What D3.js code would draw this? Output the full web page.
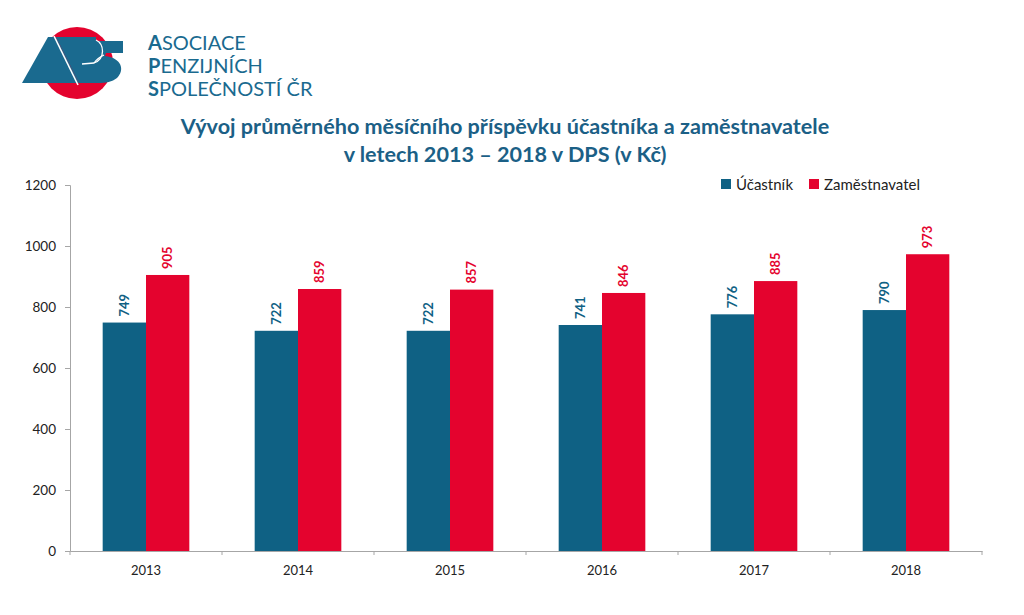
<!DOCTYPE html>
<html><head><meta charset="utf-8">
<script src="https://cdn.jsdelivr.net/npm/d3@7"></script>
<style>body{margin:0;background:#fff;font-family:Lato,"Open Sans",sans-serif}</style>
</head><body>
<svg id="c" width="1024" height="615"></svg>
<script>
const years = ["2013","2014","2015","2016","2017","2018"];
const ucastnik = [749,722,722,741,776,790];
const zamestnavatel = [905,859,857,846,885,973];
const seriesNames = ["Účastník","Zaměstnavatel"];
const colors = ["#0f6184","#e4032e"];
const yTicks = [0,200,400,600,800,1000,1200];

const svg = d3.select("#c");
const m = {l:70, r:982, t:185, b:551};

// Logo
const lg = svg.append("g");
const logoBlue = "#1a6a8f";
lg.append("circle").attr("cx",77).attr("cy",63).attr("r",36).attr("fill","#e4032e");
lg.append("path").attr("d","M22,83 L48,37 L56,37 L79,83 Z").attr("fill",logoBlue);
lg.append("path").attr("d","M56,37 L96,37 L96,41 L123,41 L123,53 L106,53 L105,56 C122,58 125,70 117,78 C112,82 106,83 98,83 L79,83 Z").attr("fill",logoBlue);
lg.append("path").attr("d","M54,36 L78,85").attr("stroke","#fff").attr("stroke-width",1.6).attr("fill","none");
lg.append("path").attr("d","M96,40 C104,44 106,58 94,63 L82,64").attr("stroke","#fff").attr("stroke-width",1.3).attr("fill","none");
lg.append("path").attr("d","M104,55 C100,57 96,60 94,63").attr("stroke","#fff").attr("stroke-width",1.3).attr("fill","none");
const lt = [["A","SOCIACE"],["P","ENZIJNÍCH"],["S","POLEČNOSTÍ ČR"]];
lt.forEach((d,i)=>{
  const t = lg.append("text").attr("x",148).attr("y",50+i*23).attr("font-size",20).attr("fill",logoBlue).attr("font-family","Lato, sans-serif");
  t.append("tspan").attr("font-weight","bold").text(d[0]);
  t.append("tspan").text(d[1]);
});

// Title
const title = ["Vývoj průměrného měsíčního příspěvku účastníka a zaměstnavatele","v letech 2013 – 2018 v DPS (v Kč)"];
title.forEach((s,i)=>svg.append("text").attr("x",505).attr("y",134+i*28).attr("text-anchor","middle")
  .attr("font-size",21.6).attr("font-weight","bold").attr("fill","#1b6086").text(s));

const x = d3.scaleBand().domain(years).range([m.l,m.r]).paddingInner(0.43).paddingOuter(0.215);
const xs = d3.scaleBand().domain([0,1]).range([0,x.bandwidth()]);
const y = d3.scaleLinear().domain([0,1200]).range([m.b,m.t]);

const xb = d3.scaleBand().domain(years).range([m.l,m.r]);
const xAxis = svg.append("g").attr("transform",`translate(0,${m.b})`)
  .call(d3.axisBottom(xb).tickSize(0).tickPadding(15));
xAxis.select(".domain").attr("stroke","#a6a6a6");
xAxis.selectAll("text").attr("font-size",13).attr("fill","#222").attr("font-family","Lato, sans-serif");
xAxis.selectAll(".bt").data(d3.range(years.length+1)).join("line").attr("class","bt")
  .attr("x1",i=>m.l+i*xb.step()).attr("x2",i=>m.l+i*xb.step()).attr("y1",0).attr("y2",4).attr("stroke","#a6a6a6");

const yAxis = svg.append("g").attr("transform",`translate(${m.l},0)`)
  .call(d3.axisLeft(y).tickValues(yTicks).tickFormat(d3.format("d")).tickSize(5).tickPadding(9));
yAxis.select(".domain").attr("stroke","#a6a6a6");
yAxis.selectAll("line").attr("stroke","#a6a6a6");
yAxis.selectAll("text").attr("font-size",13.5).attr("fill","#222").attr("font-family","Lato, sans-serif");

const data = [ucastnik, zamestnavatel];
data.forEach((vals,si)=>{
  const g = svg.append("g");
  g.selectAll("rect").data(vals).join("rect")
    .attr("x",(d,i)=>x(years[i])+xs(si)).attr("width",xs.bandwidth())
    .attr("y",d=>y(d)).attr("height",d=>m.b-y(d)).attr("fill",colors[si]);
  g.selectAll("text").data(vals).join("text")
    .attr("transform",(d,i)=>`translate(${x(years[i])+xs(si)+xs.bandwidth()/2+4.5},${y(d)-6}) rotate(-90)`)
    .attr("font-size",13).attr("font-weight","bold").attr("fill",colors[si]).text(d=>d);
});

// Legend
seriesNames.forEach((s,i)=>{
  const lx = [721,809][i];
  svg.append("rect").attr("x",lx).attr("y",179).attr("width",10).attr("height",10).attr("fill",colors[i]);
  svg.append("text").attr("x",lx+15).attr("y",190).attr("font-size",15).attr("fill","#222").text(s);
});
</script>
</body></html>
